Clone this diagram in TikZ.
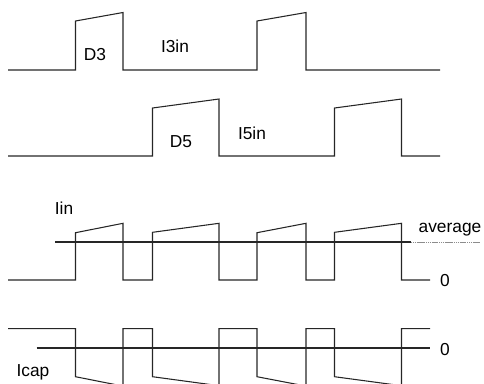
\documentclass[tikz,border=0pt]{standalone}
\usepackage{fontspec}
\setmainfont{Liberation Sans}
\begin{document}
\begin{tikzpicture}[x=0.75pt,y=-0.75pt,
  wave/.style={draw=black!85,line width=0.8pt,line join=miter},
  refline/.style={draw=black!85,line width=1.3pt},
  faint/.style={draw=black!45,line width=0.4pt,dash pattern=on 1pt off 0.4pt},
  lbl/.style={font=\fontsize{13}{15}\selectfont,inner sep=0pt,text=black}]
\useasboundingbox (0,0) rectangle (484,383);
\clip (0,0) rectangle (484,383);
% I3in
\draw[wave] (8,70) -- (75.5,70) -- (75.5,21) -- (123,12.5) -- (123,70) -- (257,70) -- (257,21) -- (306,12.5) -- (306,70) -- (440,70);
\node[lbl] (d3) at (95,55) {D3};
\node[lbl] (i3) at (175,46) {I3in};
% I5in
\draw[wave] (8,156) -- (152.5,156) -- (152.5,108) -- (219,99) -- (219,156) -- (334.5,156) -- (334.5,108) -- (401.5,99) -- (401.5,156) -- (440,156);
\node[lbl] (d5) at (181,142) {D5};
\node[lbl] (i5) at (252,133) {I5in};
% Iin
\draw[wave] (8,280) -- (75.5,280) -- (75.5,232.7) -- (123,223.3) -- (123,280) -- (152.5,280) -- (152.5,232.3) -- (219,223.3) -- (219,280) -- (257,280) -- (257,232.7) -- (306,223.3) -- (306,280) -- (334.5,280) -- (334.5,232.3) -- (401.5,223.3) -- (401.5,280) -- (430,280);
\coordinate (avgA) at (55,242.3);
\coordinate (avgB) at (411,242.3);
\coordinate (avgC) at (480,242.3);
\draw[refline] (avgA) -- (avgB);
\draw[faint] (avgB) -- (avgC);
\node[lbl] (iin) at (64,208) {Iin};
\node[lbl] (avg) at (450,230) {average};
\node[lbl] (zero1) at (445,281) {0};
% Icap
\draw[wave] (8,328.7) -- (75.5,328.7) -- (75.5,376.7) -- (123,386.1) -- (123,328.7) -- (152.5,328.7) -- (152.5,376.7) -- (219,385.7) -- (219,328.7) -- (257,328.7) -- (257,376.7) -- (306,386.1) -- (306,328.7) -- (334.5,328.7) -- (334.5,376.7) -- (401.5,385.7) -- (401.5,328.7) -- (430,328.7);
\coordinate (zA) at (36.7,348.3);
\coordinate (zB) at (430,348.3);
\draw[refline] (zA) -- (zB);
\node[lbl] (zero2) at (445,350) {0};
\node[lbl] (icap) at (33,372) {Icap};
\end{tikzpicture}
\end{document}
